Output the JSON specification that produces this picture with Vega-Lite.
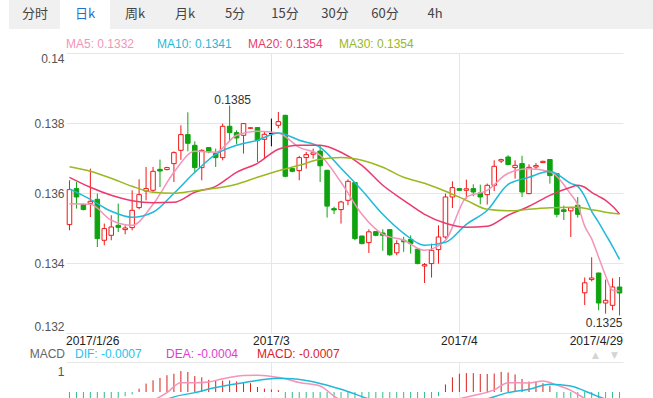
{
"$schema": "https://vega.github.io/schema/vega-lite/v6.json",
"padding": {"left": 9, "top": 0, "right": 0, "bottom": 0},
"autosize": {"type": "pad"},
"bounds": "flush",
"spacing": 0,
"config": {"view": {"stroke": null}, "text": {"font": "Liberation Sans"}, "axis": {"labelFont": "Liberation Sans", "labelFontSize": 12}},
"datasets": {
"k": [
{"d":"2017-01-26","o":0.135097,"h":0.136363,"l":0.134934,"c":0.136097,"m":-0.8},
{"d":"2017-01-27","o":0.136126,"h":0.136314,"l":0.135554,"c":0.135886,"m":-0.75},
{"d":"2017-01-28","o":0.135669,"h":0.135691,"l":0.135506,"c":0.135526,"m":-0.7},
{"d":"2017-01-30","o":0.135706,"h":0.136697,"l":0.135314,"c":0.135763,"m":-0.65},
{"d":"2017-01-31","o":0.13582,"h":0.135983,"l":0.134457,"c":0.134697,"m":-0.6},
{"d":"2017-02-01","o":0.134649,"h":0.135126,"l":0.134506,"c":0.134983,"m":-0.5},
{"d":"2017-02-02","o":0.134791,"h":0.135363,"l":0.134649,"c":0.135029,"m":-0.4},
{"d":"2017-02-03","o":0.135077,"h":0.135697,"l":0.134886,"c":0.13502,"m":-0.3},
{"d":"2017-02-04","o":0.134954,"h":0.135077,"l":0.13482,"c":0.135,"m":-0.2},
{"d":"2017-02-06","o":0.135011,"h":0.136077,"l":0.134934,"c":0.135506,"m":-0.12},
{"d":"2017-02-07","o":0.135583,"h":0.136391,"l":0.135534,"c":0.135954,"m":0.16},
{"d":"2017-02-08","o":0.136057,"h":0.136743,"l":0.135791,"c":0.136126,"m":0.4},
{"d":"2017-02-09","o":0.136077,"h":0.136743,"l":0.136,"c":0.13662,"m":0.56},
{"d":"2017-02-10","o":0.136677,"h":0.136954,"l":0.136171,"c":0.136629,"m":0.67},
{"d":"2017-02-11","o":0.136669,"h":0.136749,"l":0.136649,"c":0.136726,"m":0.8},
{"d":"2017-02-13","o":0.13684,"h":0.137191,"l":0.136314,"c":0.137154,"m":0.87},
{"d":"2017-02-14","o":0.13722,"h":0.137934,"l":0.136949,"c":0.137669,"m":1.0},
{"d":"2017-02-15","o":0.137669,"h":0.138306,"l":0.137191,"c":0.13742,"m":0.96},
{"d":"2017-02-16","o":0.137363,"h":0.137477,"l":0.136563,"c":0.136726,"m":0.76},
{"d":"2017-02-17","o":0.136726,"h":0.137249,"l":0.136363,"c":0.13722,"m":0.7},
{"d":"2017-02-18","o":0.137297,"h":0.137314,"l":0.137134,"c":0.137177,"m":0.58},
{"d":"2017-02-20","o":0.137126,"h":0.137269,"l":0.136743,"c":0.137011,"m":0.54},
{"d":"2017-02-21","o":0.137011,"h":0.137983,"l":0.136934,"c":0.137906,"m":0.54},
{"d":"2017-02-22","o":0.137906,"h":0.1385,"l":0.137457,"c":0.137726,"m":0.55},
{"d":"2017-02-23","o":0.137726,"h":0.137791,"l":0.137391,"c":0.137571,"m":0.5},
{"d":"2017-02-24","o":0.137649,"h":0.138,"l":0.137126,"c":0.137983,"m":0.47},
{"d":"2017-02-25","o":0.137849,"h":0.137877,"l":0.137834,"c":0.137863,"m":0.42},
{"d":"2017-02-27","o":0.137869,"h":0.137886,"l":0.136886,"c":0.137506,"m":0.24},
{"d":"2017-02-28","o":0.137534,"h":0.137743,"l":0.136983,"c":0.137677,"m":0.16},
{"d":"2017-03-01","o":0.137697,"h":0.138126,"l":0.137334,"c":0.137697,"m":0.12},
{"d":"2017-03-02","o":0.137934,"h":0.138314,"l":0.137849,"c":0.13804,"m":0.09},
{"d":"2017-03-03","o":0.13822,"h":0.138234,"l":0.136449,"c":0.136477,"m":-0.3},
{"d":"2017-03-04","o":0.136697,"h":0.13672,"l":0.136591,"c":0.13662,"m":-0.4},
{"d":"2017-03-06","o":0.13664,"h":0.137063,"l":0.136363,"c":0.137011,"m":-0.5},
{"d":"2017-03-07","o":0.137011,"h":0.137171,"l":0.136697,"c":0.137097,"m":-0.6},
{"d":"2017-03-08","o":0.137106,"h":0.137269,"l":0.136983,"c":0.137149,"m":-0.7},
{"d":"2017-03-09","o":0.137197,"h":0.137363,"l":0.136314,"c":0.136777,"m":-0.8},
{"d":"2017-03-10","o":0.136649,"h":0.136663,"l":0.135297,"c":0.135626,"m":-0.9},
{"d":"2017-03-11","o":0.135554,"h":0.135611,"l":0.135397,"c":0.135514,"m":-1.0},
{"d":"2017-03-13","o":0.135526,"h":0.135777,"l":0.135126,"c":0.135743,"m":-1.0},
{"d":"2017-03-14","o":0.135791,"h":0.136391,"l":0.135649,"c":0.136334,"m":-1.0},
{"d":"2017-03-15","o":0.136297,"h":0.136306,"l":0.134649,"c":0.134697,"m":-1.1},
{"d":"2017-03-16","o":0.134771,"h":0.134777,"l":0.134534,"c":0.134554,"m":-1.1},
{"d":"2017-03-17","o":0.134583,"h":0.134963,"l":0.134286,"c":0.134891,"m":-1.0},
{"d":"2017-03-18","o":0.134897,"h":0.134914,"l":0.134763,"c":0.134791,"m":-0.9},
{"d":"2017-03-20","o":0.134857,"h":0.134963,"l":0.134349,"c":0.134791,"m":-0.9},
{"d":"2017-03-21","o":0.134954,"h":0.134963,"l":0.134206,"c":0.134234,"m":-0.8},
{"d":"2017-03-22","o":0.134291,"h":0.134649,"l":0.13422,"c":0.134554,"m":-0.7},
{"d":"2017-03-23","o":0.134649,"h":0.134749,"l":0.13432,"c":0.134606,"m":-0.6},
{"d":"2017-03-24","o":0.134677,"h":0.134791,"l":0.134269,"c":0.134554,"m":-0.5},
{"d":"2017-03-25","o":0.134397,"h":0.134406,"l":0.133963,"c":0.133983,"m":-0.5},
{"d":"2017-03-27","o":0.133914,"h":0.134,"l":0.133429,"c":0.133954,"m":-0.4},
{"d":"2017-03-28","o":0.133983,"h":0.134554,"l":0.133583,"c":0.134363,"m":-0.3},
{"d":"2017-03-29","o":0.134383,"h":0.135077,"l":0.133983,"c":0.134743,"m":-0.2},
{"d":"2017-03-30","o":0.134743,"h":0.135983,"l":0.134697,"c":0.135886,"m":0.36},
{"d":"2017-03-31","o":0.135886,"h":0.136334,"l":0.135571,"c":0.136154,"m":0.7},
{"d":"2017-04-01","o":0.136126,"h":0.136134,"l":0.136063,"c":0.136077,"m":0.87},
{"d":"2017-04-03","o":0.136077,"h":0.136383,"l":0.13584,"c":0.13612,"m":0.9},
{"d":"2017-04-04","o":0.136126,"h":0.136249,"l":0.135906,"c":0.136029,"m":0.9},
{"d":"2017-04-05","o":0.136,"h":0.13624,"l":0.135677,"c":0.135886,"m":0.86},
{"d":"2017-04-06","o":0.135954,"h":0.136269,"l":0.135669,"c":0.13622,"m":0.86},
{"d":"2017-04-07","o":0.13622,"h":0.136934,"l":0.136057,"c":0.136763,"m":0.88},
{"d":"2017-04-08","o":0.136914,"h":0.136983,"l":0.136857,"c":0.136954,"m":0.96},
{"d":"2017-04-10","o":0.137029,"h":0.137077,"l":0.136791,"c":0.136814,"m":0.93},
{"d":"2017-04-11","o":0.136726,"h":0.136934,"l":0.136411,"c":0.136791,"m":0.84},
{"d":"2017-04-12","o":0.13684,"h":0.137063,"l":0.135886,"c":0.136029,"m":0.62},
{"d":"2017-04-13","o":0.135983,"h":0.13682,"l":0.135963,"c":0.136734,"m":0.5},
{"d":"2017-04-15","o":0.136743,"h":0.136857,"l":0.136669,"c":0.136783,"m":0.5},
{"d":"2017-04-17","o":0.136869,"h":0.13692,"l":0.136854,"c":0.136906,"m":0.42},
{"d":"2017-04-18","o":0.136957,"h":0.136963,"l":0.136269,"c":0.136497,"m":0.3},
{"d":"2017-04-19","o":0.136554,"h":0.136563,"l":0.135306,"c":0.135391,"m":-0.3},
{"d":"2017-04-20","o":0.13552,"h":0.13564,"l":0.135229,"c":0.135471,"m":-0.4},
{"d":"2017-04-21","o":0.135491,"h":0.1356,"l":0.134743,"c":0.135577,"m":-0.5},
{"d":"2017-04-22","o":0.135649,"h":0.135886,"l":0.135297,"c":0.135391,"m":-0.6},
{"d":"2017-04-24","o":0.133149,"h":0.133586,"l":0.1328,"c":0.133434,"m":-0.7},
{"d":"2017-04-25","o":0.133526,"h":0.134163,"l":0.133477,"c":0.133571,"m":-0.8},
{"d":"2017-04-26","o":0.133714,"h":0.13372,"l":0.132649,"c":0.132857,"m":-0.8},
{"d":"2017-04-27","o":0.132857,"h":0.133526,"l":0.132554,"c":0.132934,"m":-0.8},
{"d":"2017-04-28","o":0.132791,"h":0.133563,"l":0.132649,"c":0.133314,"m":-0.75},
{"d":"2017-04-29","o":0.133314,"h":0.1336,"l":0.1325,"c":0.133143,"m":-0.7}
],
"ma": [
{"d":"2017-01-26","MA5":0.135691,"MA10":0.13612,"MA20":0.136449,"MA30":0.136749},
{"d":"2017-01-30","MA5":0.135677,"MA10":0.13582,"MA20":0.136163,"MA30":0.13662},
{"d":"2017-02-02","MA5":0.13522,"MA10":0.135477,"MA20":0.135934,"MA30":0.13642},
{"d":"2017-02-06","MA5":0.135077,"MA10":0.135306,"MA20":0.135777,"MA30":0.136191},
{"d":"2017-02-09","MA5":0.135677,"MA10":0.135449,"MA20":0.13572,"MA30":0.13602},
{"d":"2017-02-13","MA5":0.136591,"MA10":0.135991,"MA20":0.135734,"MA30":0.135991},
{"d":"2017-02-16","MA5":0.137191,"MA10":0.136591,"MA20":0.13602,"MA30":0.136063},
{"d":"2017-02-20","MA5":0.137163,"MA10":0.137106,"MA20":0.136191,"MA30":0.136134},
{"d":"2017-02-23","MA5":0.137649,"MA10":0.137363,"MA20":0.136591,"MA30":0.136249},
{"d":"2017-02-27","MA5":0.137763,"MA10":0.137506,"MA20":0.136849,"MA30":0.136449},
{"d":"2017-03-02","MA5":0.137714,"MA10":0.137714,"MA20":0.137249,"MA30":0.136634},
{"d":"2017-03-06","MA5":0.137306,"MA10":0.137506,"MA20":0.137363,"MA30":0.136791},
{"d":"2017-03-09","MA5":0.137077,"MA10":0.137306,"MA20":0.137363,"MA30":0.136963},
{"d":"2017-03-13","MA5":0.136306,"MA10":0.136706,"MA20":0.137163,"MA30":0.137011},
{"d":"2017-03-16","MA5":0.135391,"MA10":0.136077,"MA20":0.136791,"MA30":0.136934},
{"d":"2017-03-20","MA5":0.13482,"MA10":0.135391,"MA20":0.13622,"MA30":0.136734},
{"d":"2017-03-23","MA5":0.134649,"MA10":0.134849,"MA20":0.135791,"MA30":0.136449},
{"d":"2017-03-27","MA5":0.134363,"MA10":0.134506,"MA20":0.135391,"MA30":0.136277},
{"d":"2017-03-30","MA5":0.134649,"MA10":0.134591,"MA20":0.135134,"MA30":0.136049},
{"d":"2017-04-03","MA5":0.135877,"MA10":0.135106,"MA20":0.13502,"MA30":0.135791},
{"d":"2017-04-06","MA5":0.136077,"MA10":0.135506,"MA20":0.135049,"MA30":0.135534},
{"d":"2017-04-10","MA5":0.136563,"MA10":0.136249,"MA20":0.135363,"MA30":0.135491},
{"d":"2017-04-13","MA5":0.136691,"MA10":0.136449,"MA20":0.13562,"MA30":0.135534},
{"d":"2017-04-18","MA5":0.136606,"MA10":0.13662,"MA20":0.135934,"MA30":0.135577},
{"d":"2017-04-21","MA5":0.135963,"MA10":0.136277,"MA20":0.136163,"MA30":0.135591},
{"d":"2017-04-22","MA5":0.135666,"MA10":0.136191,"MA20":0.13622,"MA30":0.135591},
{"d":"2017-04-24","MA5":0.135054,"MA10":0.135906,"MA20":0.136163,"MA30":0.135563},
{"d":"2017-04-25","MA5":0.134689,"MA10":0.135477,"MA20":0.13602,"MA30":0.13552},
{"d":"2017-04-26","MA5":0.134166,"MA10":0.135163,"MA20":0.135906,"MA30":0.135491},
{"d":"2017-04-27","MA5":0.133637,"MA10":0.13482,"MA20":0.135791,"MA30":0.135449},
{"d":"2017-04-28","MA5":0.133223,"MA10":0.134477,"MA20":0.13562,"MA30":0.13542},
{"d":"2017-04-29","MA5":0.1332,"MA10":0.1341,"MA20":0.1354,"MA30":0.1354}
],
"macd": [
{"d":"2017-01-26","s":"DIF","v":-1.0},{"d":"2017-01-31","s":"DIF","v":-1.3},{"d":"2017-02-04","s":"DIF","v":-1.2},{"d":"2017-02-08","s":"DIF","v":-0.6},{"d":"2017-02-11","s":"DIF","v":-0.03},{"d":"2017-02-14","s":"DIF","v":0.44},{"d":"2017-02-16","s":"DIF","v":0.44},{"d":"2017-02-18","s":"DIF","v":0.48},{"d":"2017-02-21","s":"DIF","v":0.63},{"d":"2017-02-24","s":"DIF","v":0.79},{"d":"2017-02-27","s":"DIF","v":0.8},{"d":"2017-03-01","s":"DIF","v":0.74},{"d":"2017-03-03","s":"DIF","v":0.63},{"d":"2017-03-06","s":"DIF","v":0.45},{"d":"2017-03-09","s":"DIF","v":0.29},{"d":"2017-03-11","s":"DIF","v":-0.2},{"d":"2017-03-15","s":"DIF","v":-0.7},{"d":"2017-03-20","s":"DIF","v":-1.1},{"d":"2017-03-25","s":"DIF","v":-1.2},{"d":"2017-03-29","s":"DIF","v":-0.9},{"d":"2017-04-01","s":"DIF","v":-0.33},{"d":"2017-04-04","s":"DIF","v":-0.17},{"d":"2017-04-07","s":"DIF","v":0.1},{"d":"2017-04-10","s":"DIF","v":0.44},{"d":"2017-04-13","s":"DIF","v":0.43},{"d":"2017-04-17","s":"DIF","v":0.52},{"d":"2017-04-19","s":"DIF","v":0.33},{"d":"2017-04-21","s":"DIF","v":0.08},{"d":"2017-04-24","s":"DIF","v":-0.3},{"d":"2017-04-27","s":"DIF","v":-0.6},{"d":"2017-04-29","s":"DIF","v":-0.7},
{"d":"2017-01-26","s":"DEA","v":-0.6},{"d":"2017-02-01","s":"DEA","v":-0.9},{"d":"2017-02-07","s":"DEA","v":-1.0},{"d":"2017-02-09","s":"DEA","v":-0.75},{"d":"2017-02-11","s":"DEA","v":-0.35},{"d":"2017-02-16","s":"DEA","v":-0.03},{"d":"2017-02-20","s":"DEA","v":0.21},{"d":"2017-02-24","s":"DEA","v":0.44},{"d":"2017-03-02","s":"DEA","v":0.65},{"d":"2017-03-04","s":"DEA","v":0.63},{"d":"2017-03-09","s":"DEA","v":0.41},{"d":"2017-03-13","s":"DEA","v":0.13},{"d":"2017-03-17","s":"DEA","v":-0.33},{"d":"2017-03-22","s":"DEA","v":-0.7},{"d":"2017-03-28","s":"DEA","v":-0.9},{"d":"2017-04-01","s":"DEA","v":-0.7},{"d":"2017-04-06","s":"DEA","v":-0.33},{"d":"2017-04-10","s":"DEA","v":-0.03},{"d":"2017-04-13","s":"DEA","v":0.13},{"d":"2017-04-18","s":"DEA","v":0.37},{"d":"2017-04-21","s":"DEA","v":0.29},{"d":"2017-04-24","s":"DEA","v":0.05},{"d":"2017-04-27","s":"DEA","v":-0.33},{"d":"2017-04-29","s":"DEA","v":-0.4}
]
},
"vconcat": [
{
"width": 587, "height": 29,
"layer": [
{"data": {"values": [{"b": "bar"}]},
 "mark": {"type": "bar", "color": "#f0f0f0"},
 "encoding": {"x": {"field": "b", "type": "nominal", "scale": {"type": "band", "range": [-57, 587], "paddingInner": 0, "paddingOuter": 0}, "axis": null}}},
{"data": {"values": [{"t": "日k"}]},
 "mark": {"type": "bar", "color": "#ffffff"},
 "encoding": {"x": {"field": "t", "type": "nominal", "scale": {"type": "band", "domain": ["分时","日k","周k","月k","5分","15分","30分","60分","4h"], "range": [-56, 394], "paddingInner": 0, "paddingOuter": 0}, "axis": null}}},
{"data": {"values": [{"t":"分时"},{"t":"日k"},{"t":"周k"},{"t":"月k"},{"t":"5分"},{"t":"15分"},{"t":"30分"},{"t":"60分"},{"t":"4h"}]},
 "mark": {"type": "text", "font": "Noto Sans CJK SC", "fontSize": 13, "baseline": "middle", "dy": -1},
 "encoding": {"x": {"field": "t", "type": "nominal", "scale": {"type": "band", "domain": ["分时","日k","周k","月k","5分","15分","30分","60分","4h"], "range": [-56, 394], "paddingInner": 0, "paddingOuter": 0}, "axis": null},
  "text": {"field": "t"},
  "color": {"condition": {"test": "datum.t == '日k'", "value": "#1f6fd6"}, "value": "#444444"}}}
],
"resolve": {"scale": {"x": "independent"}}
},
{
"width": 557, "height": 24,
"data": {"values": [{"k":"MA5","t":"MA5: 0.1332"},{"k":"MA10","t":"MA10: 0.1341"},{"k":"MA20","t":"MA20: 0.1354"},{"k":"MA30","t":"MA30: 0.1354"}]},
"mark": {"type": "text", "align": "left", "baseline": "middle", "fontSize": 12, "dy": 3},
"encoding": {
 "x": {"field": "k", "type": "nominal", "bandPosition": 0, "scale": {"type": "band", "domain": ["MA5","MA10","MA20","MA30"], "range": [0, 364], "paddingInner": 0, "paddingOuter": 0}, "axis": null},
 "text": {"field": "t"},
 "color": {"field": "k", "type": "nominal", "scale": {"domain": ["MA5","MA10","MA20","MA30"], "range": ["#f394b8","#1fbad9","#ea3a6e","#9ab822"]}, "legend": null}
}
},
{
"width": 557, "height": 280,
"layer": [
{"data": {"name": "k"},
 "mark": {"type": "rule", "strokeWidth": 1},
 "encoding": {
  "x": {"field": "d", "type": "ordinal", "scale": {"type": "band", "paddingInner": 0, "paddingOuter": 0},
   "axis": {"title": null, "values": ["2017-01-26","2017-03-01","2017-04-01","2017-04-29"], "labelExpr": "datum.value == '2017-01-26' ? '2017/1/26' : datum.value == '2017-03-01' ? '2017/3' : datum.value == '2017-04-01' ? '2017/4' : '2017/4/29'", "bandPosition": 0.5, "labelAngle": 0, "labelFlush": 8, "labelFlushOffset": 3.5, "labelPadding": 2, "labelColor": "#222222", "ticks": false, "domain": false, "grid": true, "gridColor": "#e6e6e6", "gridOpacity": {"condition": {"test": "datum.value == '2017-03-01' || datum.value == '2017-04-01'", "value": 1}, "value": 0}}},
  "y": {"field": "l", "type": "quantitative", "scale": {"domain": [0.132, 0.14], "nice": false, "zero": false},
   "axis": {"title": null, "values": [0.132, 0.134, 0.136, 0.138, 0.14], "labelExpr": "format(datum.value, '~g')", "labelFlush": true, "labelPadding": 2, "labelColor": "#555555", "ticks": false, "domain": false, "grid": true, "gridColor": "#e6e6e6"}},
  "y2": {"field": "h"},
  "color": {"condition": [{"test": "datum.c > datum.o", "value": "#f21818"}, {"test": "datum.c == datum.o", "value": "#000000"}], "value": "#0fa30f"}
 }},
{"data": {"name": "k"},
 "mark": {"type": "bar", "width": {"band": 0.65}, "strokeWidth": 1},
 "encoding": {
  "x": {"field": "d", "type": "ordinal"},
  "y": {"field": "o", "type": "quantitative"},
  "y2": {"field": "c"},
  "fill": {"condition": [{"test": "datum.c > datum.o", "value": "#ffffff"}, {"test": "datum.c == datum.o", "value": "#000000"}], "value": "#0fa30f"},
  "stroke": {"condition": [{"test": "datum.c > datum.o", "value": "#f21818"}, {"test": "datum.c == datum.o", "value": "#000000"}], "value": "#0fa30f"}
 }},
{"data": {"name": "ma"},
 "transform": [{"fold": ["MA5","MA10","MA20","MA30"], "as": ["s","v"]}],
 "mark": {"type": "line", "strokeWidth": 1.5, "interpolate": "monotone"},
 "encoding": {
  "x": {"field": "d", "type": "ordinal"},
  "y": {"field": "v", "type": "quantitative"},
  "color": {"field": "s", "type": "nominal", "scale": {"domain": ["MA5","MA10","MA20","MA30"], "range": ["#f7a3c2","#2cc2e4","#ec4176","#a5c32e"]}, "legend": null}
 }},
{"data": {"values": [{"d": "2017-02-22", "v": 0.1385, "t": "0.1385"}]},
 "mark": {"type": "text", "baseline": "alphabetic", "align": "center", "dx": 3, "dy": -2, "fontSize": 12, "color": "#333333"},
 "encoding": {"x": {"field": "d", "type": "ordinal"}, "y": {"field": "v", "type": "quantitative"}, "text": {"field": "t"}}},
{"data": {"values": [{"d": "2017-04-29", "v": 0.1325, "t": "0.1325"}]},
 "mark": {"type": "text", "baseline": "top", "align": "right", "dx": 3, "dy": 2, "fontSize": 12, "color": "#333333"},
 "encoding": {"x": {"field": "d", "type": "ordinal"}, "y": {"field": "v", "type": "quantitative"}, "text": {"field": "t"}}}
]
},
{
"width": 557, "height": 29,
"layer": [
{"data": {"values": [{"k":"DIF","t":"DIF: -0.0007"},{"k":"DEA","t":"DEA: -0.0004"},{"k":"MACD","t":"MACD: -0.0007"}]},
 "mark": {"type": "text", "align": "left", "baseline": "middle", "dy": 6, "fontSize": 12},
 "encoding": {
  "x": {"field": "k", "type": "nominal", "bandPosition": 0, "scale": {"type": "band", "domain": ["DIF","DEA","MACD"], "range": [9, 282], "paddingInner": 0, "paddingOuter": 0}, "axis": null},
  "text": {"field": "t"},
  "color": {"field": "k", "type": "nominal", "scale": {"domain": ["DIF","DEA","MACD"], "range": ["#1ec3ef","#e03ccf","#e0201c"]}, "legend": null}
 }},
{"data": {"values": [{"k":"MACD","t":"MACD"}]},
 "mark": {"type": "text", "align": "right", "baseline": "middle", "dy": 6, "fontSize": 12, "color": "#666666"},
 "encoding": {
  "x": {"field": "k", "type": "nominal", "bandPosition": 0, "scale": {"type": "band", "domain": ["MACD"], "range": [-1, 9], "paddingInner": 0, "paddingOuter": 0}, "axis": null},
  "text": {"field": "t"}
 }},
{"data": {"values": [{"k":"up","t":"▲"},{"k":"down","t":"▼"}]},
 "mark": {"type": "text", "align": "center", "baseline": "middle", "dy": 7, "fontSize": 9, "font": "DejaVu Sans", "color": "#d4d4d4"},
 "encoding": {
  "x": {"field": "k", "type": "nominal", "scale": {"type": "band", "domain": ["up","down"], "range": [520, 558], "paddingInner": 0, "paddingOuter": 0}, "axis": null},
  "text": {"field": "t"}
 }}
],
"resolve": {"scale": {"x": "independent", "color": "independent"}}
},
{
"width": 557, "height": 36,
"layer": [
{"data": {"name": "k"},
 "mark": {"type": "rule", "strokeWidth": 1, "clip": true},
 "encoding": {
  "x": {"field": "d", "type": "ordinal", "scale": {"type": "band", "paddingInner": 0, "paddingOuter": 0},
   "axis": {"title": null, "orient": "top", "labels": false, "ticks": false, "domain": true, "domainColor": "#e6e6e6", "values": ["2017-03-01","2017-04-01"], "bandPosition": 0.5, "grid": true, "gridColor": "#e6e6e6"}},
  "y": {"field": "m", "type": "quantitative", "scale": {"domain": [-0.286, 1.43], "nice": false, "zero": false},
   "axis": {"title": null, "values": [1], "labelExpr": "'1'", "grid": false, "domain": false, "ticks": false, "labelPadding": 2, "labelColor": "#555555"}},
  "y2": {"datum": 0},
  "color": {"condition": {"test": "datum.m > 0", "value": "#d9201c"}, "value": "#2bbf8a"}
 }},
{"data": {"name": "macd"},
 "mark": {"type": "line", "strokeWidth": 1.5, "interpolate": "monotone", "clip": true},
 "encoding": {
  "x": {"field": "d", "type": "ordinal"},
  "y": {"field": "v", "type": "quantitative"},
  "color": {"field": "s", "type": "nominal", "scale": {"domain": ["DIF","DEA"], "range": ["#22c3ef","#dc35cb"]}, "legend": null}
 }}
]
}
]
}
